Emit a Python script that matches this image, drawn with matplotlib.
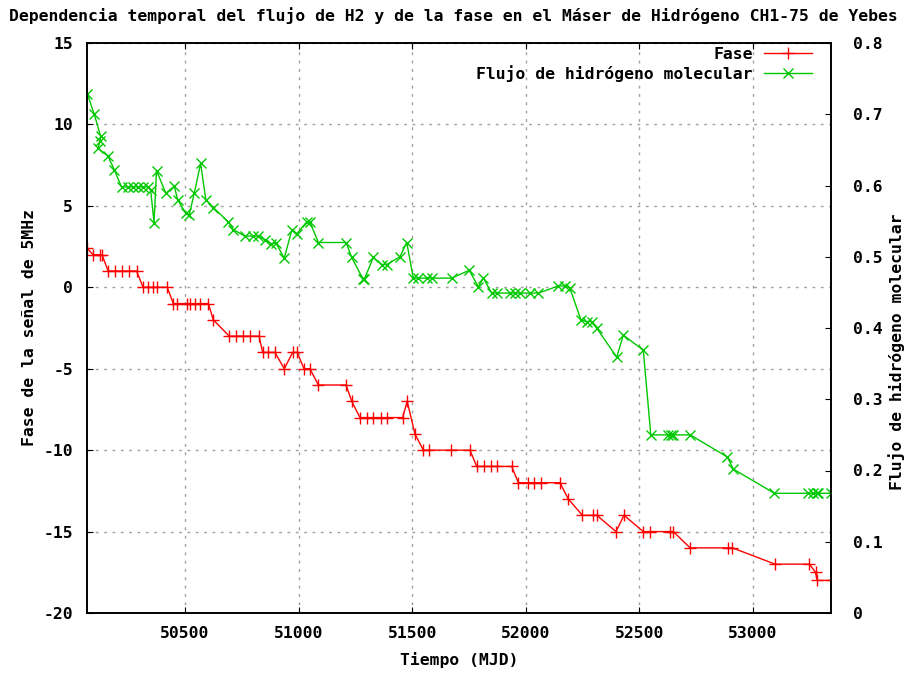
import matplotlib
matplotlib.use("Agg")
import matplotlib.pyplot as plt

# Fase (red, left axis)
fase_mjd = [50069, 50096, 50126, 50135, 50162, 50192, 50221, 50255, 50287,
            50316, 50338, 50358, 50375, 50422, 50449, 50463, 50507, 50522,
            50544, 50566, 50603, 50625, 50695, 50724, 50757, 50786, 50826,
            50842, 50867, 50896, 50937, 50974, 50994, 51024, 51050, 51087,
            51209, 51234, 51270, 51300, 51329, 51361, 51388, 51458, 51478,
            51512, 51549, 51575, 51669, 51754, 51784, 51816, 51845, 51875,
            51938, 51967, 52011, 52036, 52066, 52150, 52187, 52249, 52297,
            52312, 52397, 52432, 52517, 52547, 52635, 52649, 52723, 52891,
            52909, 53097, 53248, 53275, 53282, 53343]
fase = [2.4, 2, 2, 2, 1, 1, 1, 1, 1,
        0, 0, 0, 0, 0, -1, -1, -1, -1,
        -1, -1, -1, -2, -3, -3, -3, -3, -3,
        -4, -4, -4, -5, -4, -4, -5, -5, -6,
        -6, -7, -8, -8, -8, -8, -8, -8, -7,
        -9, -10, -10, -10, -10, -11, -11, -11, -11,
        -11, -12, -12, -12, -12, -12, -13, -14, -14,
        -14, -15, -14, -15, -15, -15, -15, -16, -16,
        -16, -17, -17, -17.5, -18, -18]

# Flujo de hidrogeno molecular (green, right axis)
flujo_mjd = [50070, 50101, 50129, 50126, 50118, 50162, 50189, 50221, 50250,
             50272, 50294, 50316, 50338, 50349, 50364, 50375, 50416, 50453,
             50468, 50504, 50519, 50541, 50569, 50592, 50625, 50691, 50713,
             50764, 50801, 50823, 50852, 50879, 50901, 50937, 50970, 50992,
             51036, 51050, 51087, 51209, 51234, 51283, 51290, 51329, 51366,
             51388, 51446, 51476, 51505, 51527, 51564, 51585, 51674, 51751,
             51791, 51813, 51850, 51872, 51930, 51952, 51974, 52018, 52055,
             52143, 52173, 52194, 52243, 52268, 52290, 52312, 52400, 52429,
             52517, 52550, 52627, 52638, 52649, 52723, 52887, 52913, 53094,
             53241, 53265, 53280, 53287, 53343]
flujo = [0.729, 0.700, 0.669, 0.663, 0.652, 0.641, 0.622, 0.598, 0.598,
         0.598, 0.598, 0.598, 0.598, 0.594, 0.548, 0.621, 0.589, 0.599,
         0.580, 0.561, 0.559, 0.589, 0.631, 0.580, 0.569, 0.549, 0.538,
         0.529, 0.529, 0.529, 0.524, 0.518, 0.519, 0.498, 0.537, 0.532,
         0.549, 0.549, 0.520, 0.520, 0.499, 0.469, 0.469, 0.499, 0.489,
         0.489, 0.500, 0.520, 0.470, 0.470, 0.470, 0.470, 0.470, 0.481,
         0.458, 0.470, 0.449, 0.449, 0.449, 0.449, 0.449, 0.449, 0.449,
         0.459, 0.459, 0.456, 0.411, 0.409, 0.409, 0.400, 0.359, 0.390,
         0.369, 0.250, 0.250, 0.250, 0.250, 0.250, 0.219, 0.202, 0.168,
         0.168, 0.168, 0.168, 0.168, 0.168]

xticks = [50500, 51000, 51500, 52000, 52500, 53000]
yticks = [-20, -15, -10, -5, 0, 5, 10, 15]
y2ticks = [0, 0.1, 0.2, 0.3, 0.4, 0.5, 0.6, 0.7, 0.8]

RED = "#ff0000"
GREEN = "#00c800"
FS = 11.8

plt.rcParams["font.family"] = ["DejaVu Sans Mono", "DejaVu Sans"]
plt.rcParams["font.weight"] = "bold"
plt.rcParams["font.size"] = FS

fig = plt.figure(figsize=(9.07, 6.74), dpi=100)
ax = fig.add_axes([87 / 907, 61 / 674, 744 / 907, 570 / 674])
ax2 = ax.twinx()

ax.plot(fase_mjd, fase, color=RED, lw=1, marker="+", ms=8, mew=1, label="Fase")
ax2.plot(flujo_mjd, flujo, color=GREEN, lw=1, marker="x", ms=6.5, mew=1,
         label="Flujo de hidrógeno molecular")

ax.set_xlim(50069, 53343)
ax.set_ylim(-20, 15)
ax2.set_ylim(0, 0.8)
ax.set_xticks(xticks)
ax.set_xticklabels([str(t) for t in xticks])
ax.set_yticks(yticks)
ax.set_yticklabels([str(t) for t in yticks])
ax2.set_yticks(y2ticks)
ax2.set_yticklabels(["0"] + ["%.1f" % t for t in y2ticks[1:]])

ax.grid(True, color="#a0a0a0", linestyle=(0, (2, 4)), lw=1)
ax.tick_params(axis="x", direction="in", top=True, length=4, pad=9)
ax.tick_params(axis="y", direction="in", right=False, length=4, pad=10)
ax2.tick_params(axis="y", direction="in", left=False, right=True, length=4, pad=16)
for a in (ax, ax2):
    for s in a.spines.values():
        s.set_linewidth(1.2)

h1, l1 = ax.get_legend_handles_labels()
h2, l2 = ax2.get_legend_handles_labels()
ax2.legend(h1 + h2, l1 + l2, loc="upper right", markerfirst=False, frameon=False,
           bbox_to_anchor=(812 / 907, 1 - 47 / 674), bbox_transform=fig.transFigure,
           borderpad=0, borderaxespad=0, handlelength=2.9, handletextpad=0.7,
           labelspacing=0.2)

fig.text(0.5, 1 - 16 / 674, "Dependencia temporal del flujo de H2 y de la fase en el Máser de Hidrógeno CH1-75 de Yebes",
         ha="center", va="center")
fig.text(459 / 907, 1 - 660 / 674, "Tiempo (MJD)", ha="center", va="center")
fig.text(30 / 907, 1 - 328 / 674, "Fase de la señal de 5MHz", ha="center", va="center", rotation=90)
fig.text(897 / 907, 1 - 352 / 674, "Flujo de hidrógeno molecular", ha="center", va="center", rotation=90)

fig.savefig("out.png", dpi=100)
